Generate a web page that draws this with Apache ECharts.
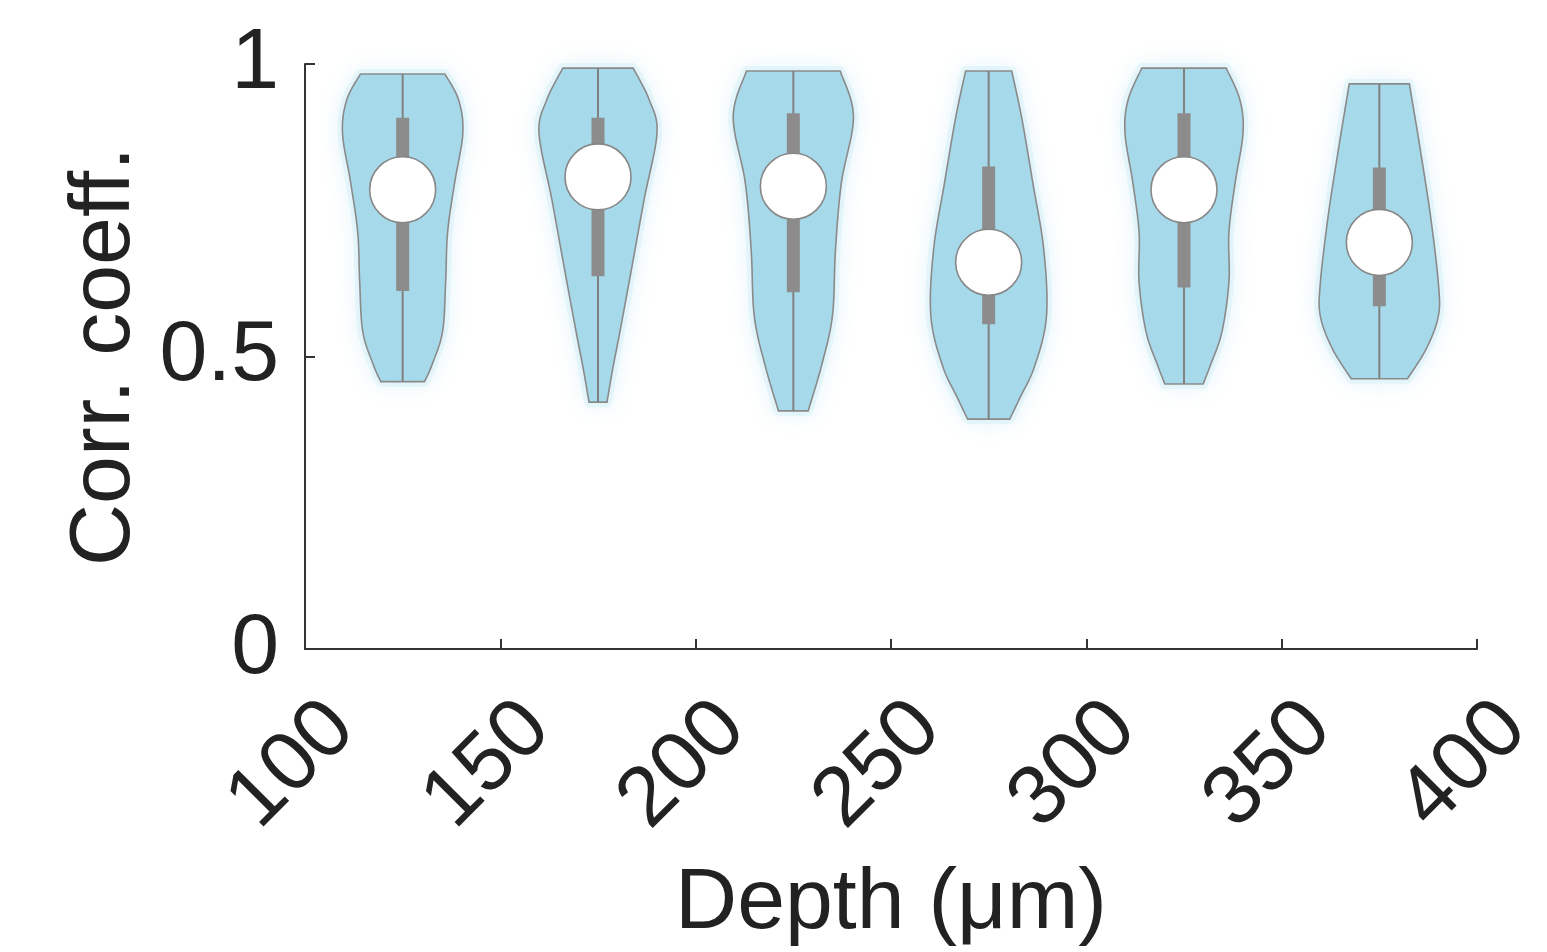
<!DOCTYPE html>
<html>
<head>
<meta charset="utf-8">
<script src="https://cdn.jsdelivr.net/npm/echarts@6/dist/echarts.min.js"></script>
<style>
html,body{margin:0;padding:0;background:#fff;}
#chart{width:1547px;height:952px;}
</style>
</head>
<body>
<div id="chart"></div>
<script>
// Depth positions of the violins (µm)
const depths = [125, 175, 225, 275, 325, 375];
const xTicks = [100, 150, 200, 250, 300, 350, 400];
const yTicks = [0, 0.5, 1];

// Violin outline: levels (corr. coeff.) and half-widths (in depth units), top to bottom
const violinLevels = [
  [0.983, 0.939, 0.882, 0.797, 0.712, 0.627, 0.542, 0.484, 0.457],
  [0.993, 0.939, 0.882, 0.768, 0.654, 0.542, 0.480, 0.422],
  [0.988, 0.910, 0.797, 0.683, 0.569, 0.484, 0.407],
  [0.988, 0.910, 0.797, 0.683, 0.569, 0.484, 0.428, 0.393],
  [0.993, 0.939, 0.882, 0.797, 0.712, 0.627, 0.542, 0.484, 0.453],
  [0.966, 0.853, 0.740, 0.626, 0.569, 0.513, 0.462]
];
const violinHalfWidths = [
  [10.8, 14.3, 15.4, 13.3, 11.5, 11.0, 10.2, 7.4, 5.6],
  [9.0, 13.1, 15.1, 11.8, 8.7, 5.6, 3.8, 2.3],
  [12.0, 15.4, 12.3, 10.8, 10.0, 7.2, 3.8],
  [5.9, 8.4, 11.3, 14.1, 14.8, 11.8, 7.9, 5.4],
  [10.8, 14.3, 15.1, 13.1, 11.5, 11.5, 9.7, 6.7, 4.9],
  [7.7, 10.5, 13.1, 15.1, 15.1, 12.0, 7.2]
];

// Summary statistics
const minima  = [0.457, 0.422, 0.407, 0.393, 0.453, 0.462];
const q1s     = [0.612, 0.637, 0.610, 0.555, 0.618, 0.586];
const medians = [0.785, 0.807, 0.791, 0.661, 0.785, 0.695];
const q3s     = [0.908, 0.908, 0.916, 0.825, 0.916, 0.823];
const maxima  = [0.983, 0.993, 0.988, 0.988, 0.993, 0.966];

function catmull(pts, steps) {
  const out = [];
  for (let i = 0; i < pts.length - 1; i++) {
    const p0 = pts[Math.max(i - 1, 0)], p1 = pts[i], p2 = pts[i + 1], p3 = pts[Math.min(i + 2, pts.length - 1)];
    for (let s = 0; s < steps; s++) {
      const t = s / steps, t2 = t * t, t3 = t2 * t;
      out.push([
        0.5 * ((2 * p1[0]) + (-p0[0] + p2[0]) * t + (2 * p0[0] - 5 * p1[0] + 4 * p2[0] - p3[0]) * t2 + (-p0[0] + 3 * p1[0] - 3 * p2[0] + p3[0]) * t3),
        0.5 * ((2 * p1[1]) + (-p0[1] + p2[1]) * t + (2 * p0[1] - 5 * p1[1] + 4 * p2[1] - p3[1]) * t2 + (-p0[1] + 3 * p1[1] - 3 * p2[1] + p3[1]) * t3)
      ]);
    }
  }
  out.push(pts[pts.length - 1]);
  return out;
}

function renderViolin(params, api) {
  const d = api.value(0);
  const i = api.value(1);
  const lv = violinLevels[i], hw = violinHalfWidths[i];
  const left = catmull(lv.map((y, k) => api.coord([d - hw[k], y])), 12);
  const right = catmull(lv.map((y, k) => api.coord([d + hw[k], y])), 12);
  const poly = left.concat(right.slice().reverse());
  const c = api.coord([d, medians[i]]);
  const top = api.coord([d, maxima[i]]);
  const bot = api.coord([d, minima[i]]);
  const bq3 = api.coord([d, q3s[i]]);
  const bq1 = api.coord([d, q1s[i]]);
  return {
    type: 'group',
    children: [
      { type: 'polygon', shape: { points: poly },
        style: { fill: 'rgba(175,225,240,0.4)', stroke: 'rgba(185,230,242,0.25)', lineWidth: 10, lineJoin: 'round',
                 shadowBlur: 22, shadowColor: 'rgba(150,215,235,0.55)' } },
      { type: 'polygon', shape: { points: poly },
        style: { fill: '#a6daea' } },
      { type: 'polygon', shape: { points: poly },
        style: { fill: 'none', stroke: '#8a8a8a', lineWidth: 1.6 } },
      { type: 'line', shape: { x1: top[0], y1: top[1], x2: bot[0], y2: bot[1] },
        style: { stroke: '#808080', lineWidth: 2 } },
      { type: 'rect', shape: { x: bq3[0] - 6.5, y: bq3[1], width: 13, height: bq1[1] - bq3[1] },
        style: { fill: '#8c8c8c' } },
      { type: 'circle', shape: { cx: c[0], cy: c[1], r: 33 },
        style: { fill: '#ffffff', stroke: '#878787', lineWidth: 1.6 } }
    ]
  };
}

const chart = echarts.init(document.getElementById('chart'), null, { renderer: 'canvas' });
const FONT = 'Liberation Sans, Arial, Helvetica, sans-serif';
chart.setOption({
  backgroundColor: '#ffffff',
  animation: false,
  grid: { left: 305, right: 70, top: 64, bottom: 301, containLabel: false },
  xAxis: {
    type: 'value', min: xTicks[0], max: xTicks[xTicks.length - 1], interval: 50,
    name: 'Depth (μm)', nameLocation: 'middle', nameGap: 212,
    nameTextStyle: { fontFamily: FONT, fontSize: 86, color: '#222' },
    axisLine: { show: true, onZero: false, lineStyle: { color: '#333', width: 2 } },
    axisTick: { show: true, inside: true, length: 10, lineStyle: { color: '#333', width: 2 } },
    axisLabel: { show: true, rotate: 45, margin: 44, align: 'right', verticalAlign: 'top',
      padding: [0, -10, 0, 0],
      fontFamily: FONT, fontSize: 84, color: '#222',
      formatter: v => xTicks.indexOf(v) >= 0 ? String(v) : '' },
    splitLine: { show: false }
  },
  yAxis: {
    type: 'value', min: yTicks[0], max: yTicks[yTicks.length - 1], interval: 0.5,
    name: 'Corr. coeff.', nameLocation: 'middle', nameGap: 130,
    nameTextStyle: { fontFamily: FONT, fontSize: 86, color: '#222' },
    axisLine: { show: true, onZero: false, lineStyle: { color: '#333', width: 2 } },
    axisTick: { show: true, inside: true, length: 10, lineStyle: { color: '#333', width: 2 } },
    axisLabel: { show: true, margin: 26, fontFamily: FONT, fontSize: 86, color: '#222',
      formatter: v => String(v) },
    splitLine: { show: false }
  },
  series: [{
    type: 'custom',
    renderItem: renderViolin,
    clip: false,
    data: depths.map((d, i) => [d, i]),
    encode: { x: 0, y: -1 }
  }]
});
</script>
</body>
</html>
